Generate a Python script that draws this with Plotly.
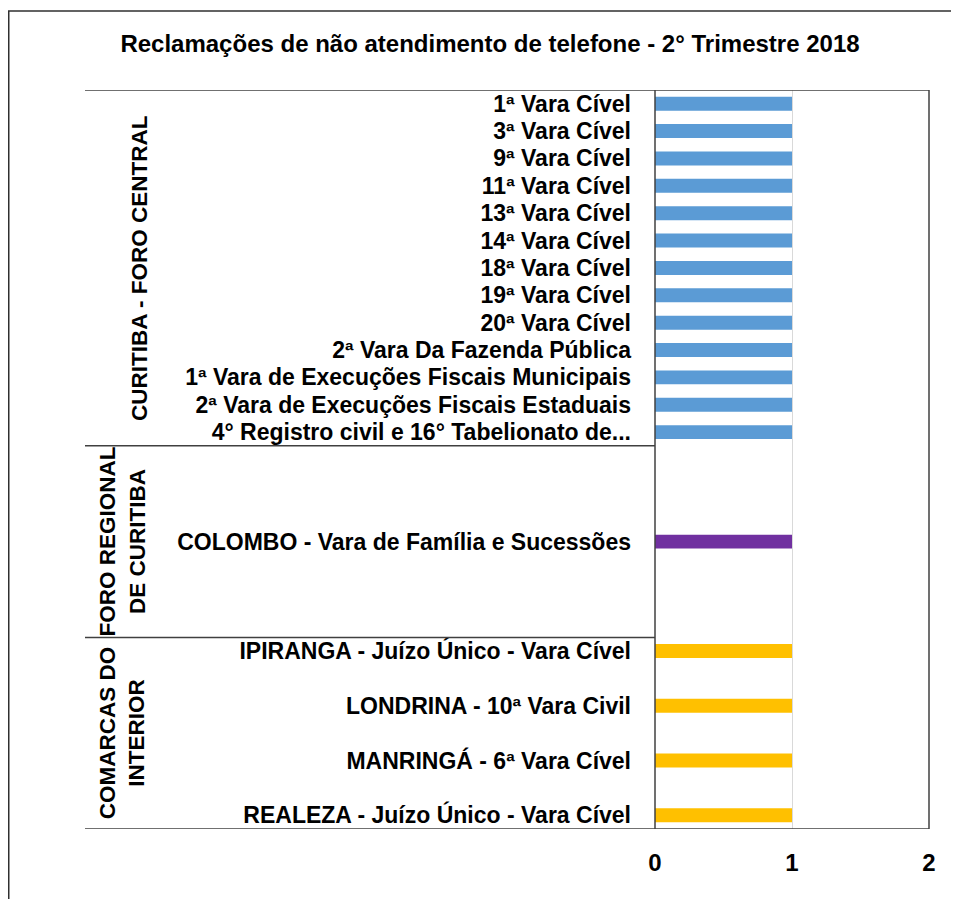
import plotly.graph_objects as go

title = "Reclamações de não atendimento de telefone - 2° Trimestre 2018"

group_names = ["CURITIBA - FORO CENTRAL", "FORO REGIONAL<br>DE CURITIBA", "COMARCAS DO<br>INTERIOR"]
group_colors = ["#5B9BD5", "#7030A0", "#FFC000"]

curitiba_labels = ["1ª Vara Cível", "3ª Vara Cível", "9ª Vara Cível", "11ª Vara Cível",
                   "13ª Vara Cível", "14ª Vara Cível", "18ª Vara Cível", "19ª Vara Cível",
                   "20ª Vara Cível", "2ª Vara Da Fazenda Pública",
                   "1ª Vara de Execuções Fiscais Municipais",
                   "2ª Vara de Execuções Fiscais Estaduais",
                   "4° Registro civil e 16° Tabelionato de..."]
curitiba_values = [1, 1, 1, 1, 1, 1, 1, 1, 1, 1, 1, 1, 1]

regional_labels = ["", "", "", "COLOMBO - Vara de Família e Sucessões", "", "", ""]
regional_values = [None, None, None, 1, None, None, None]

interior_labels = ["IPIRANGA - Juízo Único - Vara Cível", "", "LONDRINA - 10ª Vara Civil", "",
                   "MANRINGÁ - 6ª Vara Cível", "", "REALEZA - Juízo Único - Vara Cível"]
interior_values = [1, None, 1, None, 1, None, 1]

x_ticks = [0, 1, 2]

groups = [(curitiba_labels, curitiba_values),
          (regional_labels, regional_values),
          (interior_labels, interior_values)]

FONT = "Liberation Sans, Arial, sans-serif"

fig = go.Figure()
all_pos, all_text = [], []
start = 0
bounds = [-0.5]
for (labels, values), color in zip(groups, group_colors):
    pos = list(range(start, start + len(labels)))
    fig.add_trace(go.Bar(y=pos, x=values, orientation="h", width=0.51,
                         marker=dict(color=color, line=dict(width=0)),
                         showlegend=False, hoverinfo="x+text", text=labels,
                         textposition="none"))
    for p, l in zip(pos, labels):
        if l:
            all_pos.append(p)
            all_text.append(l)
    start += len(labels)
    bounds.append(start - 0.5)

# page offset (body margin) of 8 px
OFF = 8
W, H = 959 - OFF, 899 - OFF
L, R, T, B = 655 - OFF, 929 - OFF, 90 - OFF, 829 - OFF
pw = R - L
ph = B - T
def px_x(x):
    return (x - OFF - L) / pw
def px_y(y):
    return (B - (y - OFF)) / ph

shapes = []
line_col = "#404040"
for yb in [bounds[0], bounds[-1]]:
    shapes.append(dict(type="line", xref="paper", yref="y", x0=px_x(85), x1=1, y0=yb, y1=yb,
                       line=dict(color=line_col, width=1.5)))
for yb in bounds[1:-1]:
    shapes.append(dict(type="line", xref="paper", yref="y", x0=px_x(85), x1=0, y0=yb, y1=yb,
                       line=dict(color=line_col, width=1.5)))
shapes.append(dict(type="line", xref="paper", yref="paper", x0=1, x1=1, y0=0, y1=1,
                   line=dict(color=line_col, width=1.5)))
shapes.append(dict(type="line", xref="paper", yref="paper", x0=0, x1=0, y0=0, y1=1,
                   line=dict(color=line_col, width=1.5)))
# outer frame
shapes.append(dict(type="rect", xref="paper", yref="paper", x0=px_x(8.75), x1=px_x(1000),
                   y0=px_y(950), y1=px_y(11), line=dict(color="#303030", width=1.5),
                   fillcolor="rgba(0,0,0,0)"))

annotations = []
group_x = [140, 122, 122]
for (labels, _), name, gx, b0, b1 in zip(groups, group_names, group_x, bounds[:-1], bounds[1:]):
    annotations.append(dict(text="<b>" + name + "</b>", xref="paper", yref="y",
                            x=px_x(gx), y=(b0 + b1) / 2, textangle=-90, showarrow=False,
                            xanchor="center", yanchor="middle",
                            font=dict(family=FONT, size=22.5, color="#000000")))

fig.update_layout(
    width=W, height=H,
    margin=dict(l=L, r=W - R, t=T, b=H - B, pad=0),
    paper_bgcolor="white", plot_bgcolor="white",
    title=dict(text="<b>" + title + "</b>", x=(490 - OFF) / W, xref="container", xanchor="center",
               y=1 - (44 - OFF) / H, yref="container", yanchor="middle",
               font=dict(family=FONT, size=24, color="#000000")),
    shapes=shapes, annotations=annotations,
    bargap=0.49,
)
fig.update_xaxes(range=[0, 2], tickvals=x_ticks, ticktext=["<b>%d</b>" % v for v in x_ticks],
                 showgrid=True, gridcolor="#D9D9D9", gridwidth=1, zeroline=False,
                 showline=False, ticks="", ticklabelstandoff=17,
                 tickfont=dict(family=FONT, size=24, color="#000000"),
                 fixedrange=True)
fig.update_yaxes(range=[bounds[-1], bounds[0]], tickvals=all_pos,
                 ticktext=["<b>" + t + "</b>" for t in all_text],
                 showgrid=False, zeroline=False, showline=False, ticks="",
                 ticklabelstandoff=23,
                 tickfont=dict(family=FONT, size=23, color="#000000"),
                 fixedrange=True)

fig.write_html("out.html")
